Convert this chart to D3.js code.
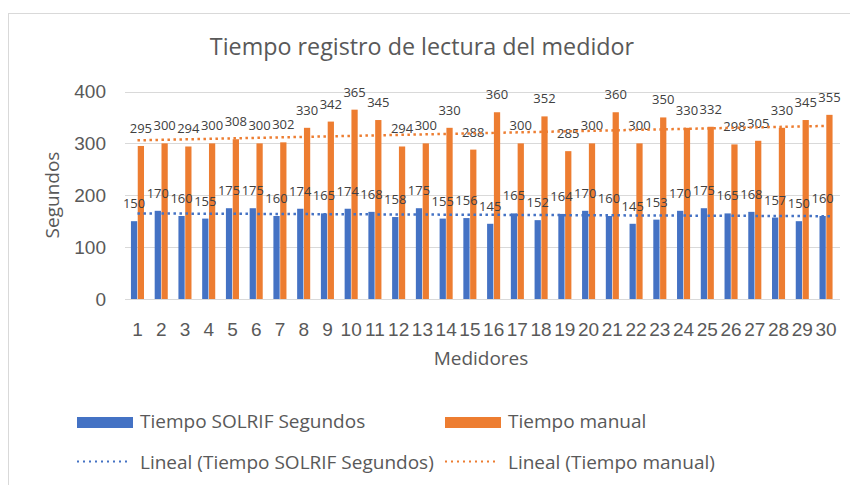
<!DOCTYPE html>
<html><head><meta charset="utf-8">
<script src="https://cdn.jsdelivr.net/npm/d3@7/dist/d3.min.js"></script>
<style>body{margin:0;background:#fff;}svg{display:block;font-family:"Open Sans","Noto Sans",sans-serif;}</style>
</head><body><svg id="c" width="850" height="485"></svg>
<script>
const categories = d3.range(1,31).map(String);
const solrif = [150,170,160,155,175,175,160,174,165,174,168,158,175,155,156,145,165,152,164,170,160,145,153,170,175,165,168,157,150,160];
const manual = [295,300,294,300,308,300,302,330,342,365,345,294,300,330,288,360,300,352,285,300,360,300,350,330,332,298,305,330,345,355];
const yTicks = [0,100,200,300,400];
const seriesNames = ["Tiempo SOLRIF Segundos","Tiempo manual"];
const colors = ["#4472C4","#ED7D31"];

const svg = d3.select("#c");
svg.append("rect").attr("x",8.5).attr("y",13.5).attr("width",900).attr("height",600).attr("fill","#fff").attr("stroke","#d9d9d9");

const x = d3.scaleBand().domain(categories).range([125.6,837.9]).paddingInner(0.45).paddingOuter(0.225);
const y = d3.scaleLinear().domain([0,400]).range([299,91.5]);
const sub = d3.scaleBand().domain([0,1]).range([0,x.bandwidth()]).paddingInner(0.08);

// grid
svg.append("g").selectAll("line").data(yTicks).join("line")
  .attr("x1",125).attr("x2",840).attr("y1",d=>Math.round(y(d))+0.5).attr("y2",d=>Math.round(y(d))+0.5)
  .attr("stroke","#d9d9d9").attr("stroke-width",1);

// y axis labels
const yAxis = d3.axisLeft(y).tickValues(yTicks).tickSize(0).tickPadding(0);
const gy = svg.append("g").attr("transform","translate(106,0)").call(yAxis);
gy.select(".domain").remove();
gy.selectAll("text").attr("font-size",19).attr("fill","#595959");

// x axis labels
const xAxis = d3.axisBottom(x).tickSize(0).tickPadding(0);
const gx = svg.append("g").attr("transform","translate(0,336)").call(xAxis);
gx.select(".domain").remove();
gx.selectAll("text").attr("font-size",19).attr("fill","#595959").attr("dy",0);

const data = [solrif, manual];
data.forEach((vals,si)=>{
  svg.append("g").selectAll("rect").data(vals).join("rect")
    .attr("x",(d,i)=>x(categories[i])+sub(si))
    .attr("width",sub.bandwidth())
    .attr("y",d=>y(d))
    .attr("height",d=>y(0)-y(d))
    .attr("fill",colors[si]);
});
data.forEach((vals,si)=>{
  svg.append("g").selectAll("text").data(vals).join("text")
    .attr("x",(d,i)=>x(categories[i])+sub(si)+sub.bandwidth()/2)
    .attr("y",d=>y(d)-13)
    .attr("text-anchor","middle")
    .attr("font-size",13)
    .attr("fill","#404040")
    .text(d=>d);
});

// linear trend lines
function fit(vals){
  const n=vals.length, xs=d3.range(1,n+1);
  const mx=d3.mean(xs), my=d3.mean(vals);
  const b=d3.sum(xs,(xv,i)=>(xv-mx)*(vals[i]-my))/d3.sum(xs,xv=>(xv-mx)**2);
  return xv=>my+b*(xv-mx);
}
data.forEach((vals,si)=>{
  const f=fit(vals);
  const cx=i=>x(categories[i])+x.bandwidth()/2;
  svg.append("line")
    .attr("x1",cx(0)).attr("x2",cx(29)+4)
    .attr("y1",y(f(1))).attr("y2",y(f(30)))
    .attr("stroke",colors[si]).attr("stroke-width",2.5)
    .attr("stroke-dasharray","2.5,3.5");
});

// titles
svg.append("text").attr("x",422).attr("y",55).attr("text-anchor","middle")
  .attr("font-size",23.3).attr("fill","#595959").text("Tiempo registro de lectura del medidor");
svg.append("text").attr("x",481).attr("y",365).attr("text-anchor","middle")
  .attr("font-size",19).attr("fill","#595959").text("Medidores");
svg.append("text").attr("transform","translate(59,195) rotate(-90)").attr("text-anchor","middle")
  .attr("font-size",19).attr("fill","#595959").text("Segundos");

// legend
const lg = svg.append("g");
const legX=[77,445];
seriesNames.forEach((n,i)=>{
  lg.append("rect").attr("x",legX[i]).attr("y",417).attr("width",56).attr("height",11).attr("fill",colors[i]);
  lg.append("text").attr("x",legX[i]+63).attr("y",428).attr("font-size",19).attr("fill","#595959").text(n);
  lg.append("line").attr("x1",legX[i]).attr("x2",legX[i]+53).attr("y1",461.5).attr("y2",461.5)
    .attr("stroke",colors[i]).attr("stroke-width",2).attr("stroke-dasharray","2,4");
  lg.append("text").attr("x",legX[i]+63).attr("y",469).attr("font-size",19).attr("fill","#595959").text("Lineal ("+n+")");
});
</script></body></html>
